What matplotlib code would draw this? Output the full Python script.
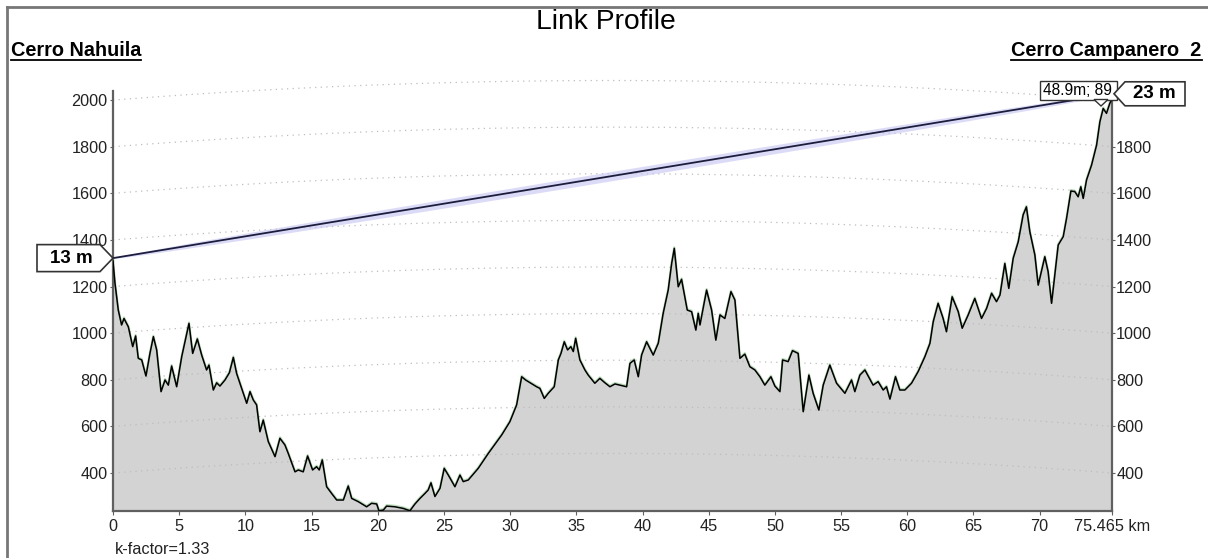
import matplotlib.pyplot as plt
import numpy as np
from matplotlib.patches import Polygon, Rectangle
from matplotlib.lines import Line2D
from matplotlib.transforms import IdentityTransform

plt.rcParams['font.family'] = ['Liberation Sans', 'DejaVu Sans']

# path data (distance in km, height as drawn in m)
dist_km = [0, 0.15, 0.4, 0.65, 0.83, 1.16, 1.49, 1.71, 1.91, 2.17,
           2.49, 2.79, 3.05, 3.3, 3.63, 3.93, 4.18, 4.43, 4.81, 5.19,
           5.44, 5.74, 6.02, 6.37, 6.7, 7.07, 7.25, 7.58, 7.83, 8.08,
           8.46, 8.79, 9.09, 9.34, 9.72, 10.1, 10.35, 10.6, 10.85, 11.1,
           11.35, 11.73, 12.24, 12.61, 12.99, 13.24, 13.75, 14.0, 14.37, 14.7,
           15.08, 15.38, 15.58, 15.81, 16.14, 16.52, 16.9, 17.4, 17.77, 18.03,
           18.53, 19.16, 19.54, 19.92, 20.09, 20.42, 20.67, 21.3, 21.93, 22.43,
           22.81, 23.19, 23.56, 23.81, 24.02, 24.32, 24.7, 25.02, 25.33, 25.83,
           26.21, 26.46, 26.84, 27.59, 28.35, 29.36, 29.98, 30.49, 30.87, 31.17,
           31.37, 32.0, 32.25, 32.58, 32.88, 33.33, 33.64, 33.84, 34.09, 34.34,
           34.59, 34.77, 34.95, 35.27, 35.65, 35.9, 36.4, 36.78, 37.16, 37.54,
           37.92, 38.29, 38.8, 39.05, 39.37, 39.68, 39.93, 40.31, 40.81, 41.19,
           41.56, 41.94, 42.2, 42.4, 42.7, 42.95, 43.38, 43.71, 44.03, 44.21,
           44.34, 44.84, 45.22, 45.54, 45.85, 46.22, 46.68, 46.98, 47.36, 47.73,
           48.11, 48.49, 48.87, 49.24, 49.7, 50.0, 50.38, 50.58, 51.0, 51.33,
           51.76, 52.14, 52.57, 52.89, 53.32, 53.65, 54.15, 54.66, 55.29, 55.79,
           56.04, 56.42, 56.8, 57.42, 57.8, 58.18, 58.43, 58.69, 59.11, 59.44,
           59.82, 60.32, 60.82, 61.33, 61.71, 61.96, 62.33, 62.71, 62.96, 63.39,
           63.85, 64.15, 64.6, 65.1, 65.61, 65.99, 66.37, 66.74, 67.0, 67.37,
           67.67, 68.0, 68.38, 68.75, 69.0, 69.26, 69.64, 69.89, 70.39, 70.64,
           70.9, 71.4, 71.78, 72.03, 72.36, 72.66, 72.91, 73.11, 73.29, 73.54,
           73.92, 74.3, 74.55, 74.8, 75.05, 75.3, 75.465]
height_m = [1309, 1214, 1099, 1035, 1063, 1027, 942, 988, 892, 885,
            816, 913, 985, 928, 749, 799, 777, 859, 770, 899,
            963, 1042, 913, 975, 906, 842, 863, 756, 787, 773,
            799, 830, 896, 827, 763, 699, 749, 713, 692, 577,
            627, 535, 470, 549, 520, 484, 405, 413, 405, 473,
            413, 427, 413, 456, 341, 312, 284, 284, 344, 291,
            277, 255, 270, 267, 238, 241, 258, 255, 248, 238,
            267, 291, 312, 327, 358, 299, 334, 420, 391, 341,
            391, 363, 370, 420, 484, 563, 620, 692, 813, 799,
            792, 770, 763, 720, 742, 770, 885, 913, 963, 928,
            942, 921, 978, 885, 842, 820, 785, 806, 787, 770,
            782, 777, 770, 870, 885, 813, 906, 963, 906, 957,
            1085, 1185, 1299, 1364, 1199, 1231, 1099, 1092, 1013, 1085,
            1035, 1185, 1099, 970, 1078, 1063, 1178, 1142, 892, 910,
            856, 842, 813, 777, 813, 773, 749, 885, 878, 925,
            913, 663, 820, 742, 670, 777, 863, 785, 742, 799,
            749, 820, 842, 777, 792, 756, 770, 717, 813, 756,
            756, 785, 835, 899, 956, 1049, 1128, 1063, 1006, 1156,
            1092, 1021, 1078, 1149, 1063, 1106, 1171, 1135, 1163, 1299,
            1192, 1321, 1392, 1507, 1542, 1435, 1335, 1206, 1328, 1264,
            1128, 1378, 1414, 1492, 1610, 1607, 1585, 1628, 1578, 1657,
            1721, 1807, 1907, 1964, 1943, 1986, 2004]

total_km = 75.465
k_factor = 1.33
ant_left_m = 13
ant_right_m = 23
site_left = "Cerro Nahuila"
site_right = "Cerro Campanero  2"
grid_levels = [400, 600, 800, 1000, 1200, 1400, 1600, 1800, 2000]
right_levels = [400, 600, 800, 1000, 1200, 1400, 1600, 1800]
x_ticks = [0, 5, 10, 15, 20, 25, 30, 35, 40, 45, 50, 55, 60, 65, 70]
clearance_text = "48.9m; 89"

W, H = 1208, 558
fig = plt.figure(figsize=(W / 100, H / 100), dpi=100)
ax = fig.add_axes([113 / W, 47 / H, 999 / W, 451 / H])
ax.set_xlim(0, total_km)
ax.set_ylim(237, 2172)

d = np.array(dist_km)
h = np.array(height_m)

# curved grid (earth bulge for the k-factor)
xs = np.linspace(0, total_km, 300)
bulge = xs * (total_km - xs) / (12.742 * k_factor)
for lev in grid_levels:
    ax.plot(xs, lev + bulge, color='#bdbdbd', lw=0.9, ls=(0, (1, 3.5)), zorder=2)

# terrain
ax.fill_between(d, 0, h, color='#d3d3d3', lw=0, zorder=1)
ax.plot(d, h + 4, color='#3a9a3a', lw=1.6, alpha=0.35, zorder=3)
ax.plot(d, h, color='black', lw=1.1, zorder=4)

# line of sight with fresnel band
los_left = height_m[0] + ant_left_m
los_right = height_m[-1] + ant_right_m
los = los_left + (los_right - los_left) * xs / total_km
fres = 20 * np.sqrt(xs * (total_km - xs)) / (total_km / 2)
ax.fill_between(xs, los - fres, los + fres, color='#c4c4f2', alpha=0.6, lw=0, zorder=5)
ax.plot(xs, los, color='#1c1c3c', lw=1.3, zorder=6)

# axes styling
ax.spines['top'].set_visible(False)
for s in ['left', 'right', 'bottom']:
    ax.spines[s].set_color('#606060')
    ax.spines[s].set_linewidth(1.6)
ax.spines['left'].set_bounds(237, 2040)
ax.spines['right'].set_bounds(237, 2010)

ax.set_xticks(x_ticks + [total_km])
ax.set_xticklabels([str(t) for t in x_ticks] + ['75.465 km'])
ax.set_yticks(grid_levels)
ax.tick_params(axis='x', length=3, pad=3, labelsize=11.7, colors='#606060', labelcolor='#222222')
ax.tick_params(axis='y', length=2, pad=2, labelsize=11.7, colors='#606060', labelcolor='#222222')

ax2 = ax.twinx()
ax2.set_ylim(ax.get_ylim())
ax2.set_yticks(right_levels)
ax2.tick_params(axis='y', length=2, pad=1, labelsize=11.7, colors='#606060', labelcolor='#222222')
for s in ['top', 'left', 'bottom', 'right']:
    ax2.spines[s].set_visible(False)

# texts
px = IdentityTransform()
fig.text(606, H - 22, "Link Profile", fontsize=20.3, ha='center', va='center', transform=px)
t1 = fig.text(10.7, H - 50, site_left, fontsize=14.3, fontweight='bold', ha='left', va='center', transform=px)
t2 = fig.text(1201.7, H - 50, site_right, fontsize=14.3, fontweight='bold', ha='right', va='center', transform=px)
fig.text(115, H - 550, "k-factor=1.33", fontsize=11.7, ha='left', va='center', color='#222222', transform=px)

fig.canvas.draw()
r = fig.canvas.get_renderer()
for t in (t1, t2):
    bb = t.get_window_extent(r)
    fig.add_artist(Line2D([bb.x0, bb.x1], [H - 60, H - 60], color='black', lw=1.3, transform=px))

# antenna markers
tx, ty = ax.transData.transform((0, los_left))
fig.add_artist(Polygon([(tx, ty), (tx - 13, ty + 13.5), (tx - 76, ty + 13.5),
                        (tx - 76, ty - 13.5), (tx - 13, ty - 13.5)], closed=True,
                       facecolor='white', edgecolor='#333333', lw=1.2, transform=px, zorder=10))
fig.text(tx - 42, ty, "%d m" % ant_left_m, fontsize=13.5, fontweight='bold', ha='center', va='center',
         transform=px, zorder=11)

# clearance box near the right end
fig.add_artist(Rectangle((1040, H - 99.5), 77, 18.5, facecolor='white', edgecolor='#333333',
                         lw=1, transform=px, zorder=10))
fig.add_artist(Polygon([(1094, H - 99.5), (1108, H - 99.5), (1101, H - 106)], closed=True,
                       facecolor='white', edgecolor='#333333', lw=1, transform=px, zorder=10))
fig.text(1043, H - 90.5, clearance_text, fontsize=11.2, ha='left', va='center', transform=px, zorder=11)

rx, ry = ax.transData.transform((total_km, los_right))
rx += 2
fig.add_artist(Polygon([(rx, ry), (rx + 11, ry + 12), (rx + 71, ry + 12),
                        (rx + 71, ry - 12), (rx + 11, ry - 12)], closed=True,
                       facecolor='white', edgecolor='#333333', lw=1.2, transform=px, zorder=12))
fig.text(rx + 40, ry, "%d m" % ant_right_m, fontsize=13.5, fontweight='bold', ha='center', va='center',
         transform=px, zorder=13)

# outer frame
fig.add_artist(Line2D([7, 7], [0, H - 7], color='#777777', lw=2, transform=px))
fig.add_artist(Line2D([7, W], [H - 7, H - 7], color='#777777', lw=2, transform=px))

fig.savefig('out.png', dpi=100)
